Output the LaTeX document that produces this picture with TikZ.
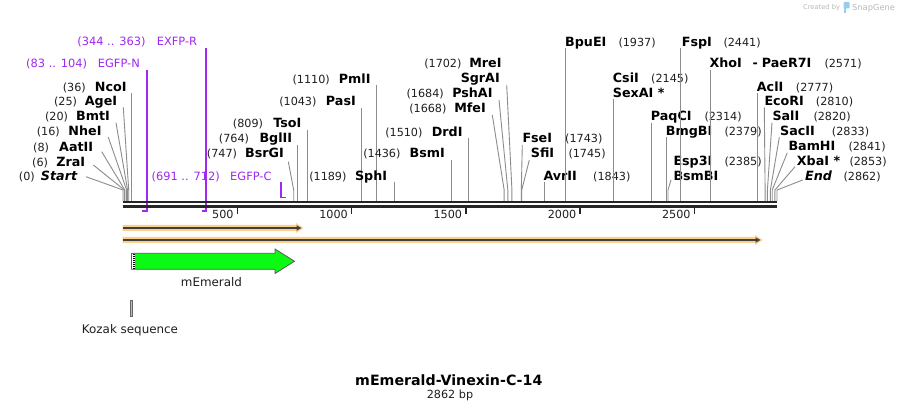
\documentclass[tikz,border=0pt]{standalone}
\usepackage{fontspec}
\setmainfont{DejaVu Sans}
\usetikzlibrary{arrows.meta}
\definecolor{primc}{RGB}{160,40,240}
\definecolor{cutc}{RGB}{140,140,140}
\definecolor{bbc}{RGB}{38,38,38}
\definecolor{orbg}{RGB}{252,208,140}
\definecolor{flc}{RGB}{64,64,64}
\definecolor{grn}{RGB}{10,250,20}
\definecolor{wmc}{RGB}{185,185,185}
\definecolor{logoc}{RGB}{150,205,240}
\tikzset{
  num/.style={font=\fontsize{11.2}{13}\selectfont, inner sep=0pt, text=black!88},
  enz/.style={font=\fontsize{12.7}{14}\selectfont\bfseries, inner sep=0pt, text=black},
  prim/.style={font=\fontsize{11.4}{13}\selectfont, inner sep=0pt, text=primc},
  feat/.style={font=\fontsize{11.9}{13}\selectfont, inner sep=0pt, text=black!88},
  cut/.style={draw=cutc, line width=0.9pt},
  pline/.style={draw=primc, line width=1.7pt},
  bb/.style={draw=bbc, line width=2.4pt},
  tickm/.style={draw=bbc, line width=1.6pt},
  fline/.style={draw=flc, line width=1.6pt, -{Triangle[length=5pt,width=5pt]}},
}
\newcommand\enzL[9]{%
  \node[enz,anchor=base east] (#1) at (#4,#6) {#2};
  \node[num,anchor=base east] (#1n) at (#5,#6) {#3};
  \coordinate (#1a) at (#7,#8);
  \coordinate (#1k) at (#9,190);
  \coordinate (#1s) at (#9,201.5);
  \draw[cut] (#1a) -- (#1k) -- (#1s);
}
\newcommand\enzR[9]{%
  \node[enz,anchor=base west] (#1) at (#4,#6) {#2};
  \node[num,anchor=base west] (#1n) at (#5,#6) {#3};
  \coordinate (#1a) at (#7,#8);
  \coordinate (#1k) at (#9,190);
  \coordinate (#1s) at (#9,201.5);
  \draw[cut] (#1a) -- (#1k) -- (#1s);
}
\begin{document}
\begin{tikzpicture}[x=1pt,y=-1pt]
\useasboundingbox (0,0) rectangle (900,411);
\fill[white] (0,0) rectangle (900,411);

% watermark
\node[anchor=base west, inner sep=0pt, font=\fontsize{6.7}{8}\selectfont, text=wmc] (wm1) at (803,10) {Created by};
\fill[logoc, rounded corners=1pt] (843.5,2) rectangle (849.5,8.5);
\fill[logoc] (843.5,6) rectangle (846,13);
\node[anchor=base west, inner sep=0pt, font=\fontsize{8.3}{9}\selectfont, text=wmc] (wm2) at (852,10.5) {SnapGene};

% primers (drawn under the backbone)
\node[prim,anchor=base east] (exr) at (197.3,45.7) {EXFP-R};
\node[prim,anchor=base east] (exrn) at (145.7,45.7) {(344 .. 363)};
\coordinate (exra) at (206.3,48.3);
\coordinate (exrb) at (206.3,211);
\coordinate (exrc) at (201.6,211);
\draw[pline] (exra) -- (exrb) -- (exrc);

\node[prim,anchor=base east] (egn) at (140,67.3) {EGFP-N};
\node[prim,anchor=base east] (egnn) at (87.3,67.3) {(83 .. 104)};
\coordinate (egna) at (146.8,70);
\coordinate (egnb) at (146.8,211);
\coordinate (egnc) at (142,211);
\draw[pline] (egna) -- (egnb) -- (egnc);

\node[prim,anchor=base east] (egc) at (271.7,180.7) {EGFP-C};
\node[prim,anchor=base east] (egcn) at (220,180.7) {(691 .. 712)};
\coordinate (egca) at (280.9,182);
\coordinate (egcb) at (280.9,197.5);
\coordinate (egcc) at (285.7,197.5);
\draw[pline] (egca) -- (egcb) -- (egcc);

% enzymes, labels on the left
\enzL{st}{\itshape Start}{(0)}{77.3}{35}{180.7}{86}{176.7}{123}
\enzL{zra}{ZraI}{(6)}{85.3}{48.3}{166.3}{93.3}{165}{124.37}
\enzL{aat}{AatII}{(8)}{93.3}{49.3}{151.3}{101.7}{151.7}{124.83}
\enzL{nhe}{NheI}{(16)}{101.7}{60}{135.7}{108.3}{137.3}{126.66}
\enzL{bmt}{BmtI}{(20)}{110}{68.3}{120.7}{116}{122.7}{127.57}
\enzL{age}{AgeI}{(25)}{117.3}{77.3}{105.7}{123.3}{107.3}{128.71}
\enzL{nco}{NcoI}{(36)}{126.7}{86}{91.3}{131.23}{93.3}{131.23}
\enzL{bsrg}{BsrGI}{(747)}{284}{237.3}{158}{288.3}{161.7}{293.7}
\enzL{bgl}{BglII}{(764)}{292.3}{249.3}{143}{297.58}{145}{297.58}
\enzL{tso}{TsoI}{(809)}{301.5}{263.3}{128}{307.87}{130}{307.87}
\enzL{pas}{PasI}{(1043)}{356}{316.7}{105.7}{361.34}{108.3}{361.34}
\enzL{pml}{PmlI}{(1110)}{370.7}{330}{83.3}{376.64}{85}{376.64}
\enzL{sph}{SphI}{(1189)}{387.3}{346.7}{180.7}{394.7}{181.7}{394.7}
\enzL{bsm}{BsmI}{(1436)}{445}{400.7}{158}{451.14}{160}{451.14}
\enzL{drd}{DrdI}{(1510)}{462.7}{422.7}{136.3}{468.05}{137.7}{468.05}
\enzL{mfe}{MfeI}{(1668)}{486}{446.7}{113}{492.3}{115}{504.16}
\enzL{psh}{PshAI}{(1684)}{492.7}{444}{97.3}{499}{100}{507.81}
\node[enz,anchor=base east] (sgr) at (500,82.3) {SgrAI};
\node[enz,anchor=base east] (mre) at (501.7,67.3) {MreI};
\node[num,anchor=base east] (mren) at (461.7,67.3) {(1702)};
\coordinate (sgra) at (506.7,85);
\coordinate (sgrk) at (511.93,190);
\coordinate (sgrs) at (511.93,201.5);
\draw[cut] (sgra) -- (sgrk) -- (sgrs);

% enzymes, labels on the right
\enzR{fse}{FseI}{(1743)}{522.3}{565}{143}{522.3}{145}{521.3}
\enzR{sfi}{SfiI}{(1745)}{530.7}{568.3}{158}{529.3}{160}{521.75}
\enzR{avr}{AvrII}{(1843)}{543.3}{593}{180.7}{544.14}{181.7}{544.14}
\enzR{bpue}{BpuEI}{(1937)}{565}{618.3}{46.3}{565.62}{48.3}{565.62}
\enzR{csi}{CsiI}{(2145)}{612.7}{651}{83}{613.15}{99.3}{613.15}
\node[enz,anchor=base west] (sexa) at (612.7,98) {SexAI *};
\enzR{paq}{PaqCI}{(2314)}{650.7}{704.3}{120.7}{651.77}{122.7}{651.77}
\enzR{bmgb}{BmgBI}{(2379)}{665.7}{724.3}{135.7}{666.62}{137.3}{666.62}
\enzR{esp}{Esp3I}{(2385)}{673.3}{724.3}{165.7}{671}{180}{667.99}
\node[enz,anchor=base west] (bsmb) at (673.3,180.7) {BsmBI};
\enzR{fsp}{FspI}{(2441)}{681.7}{723.3}{46.3}{680.79}{48.3}{680.79}
\enzR{xho}{XhoI}{(2571)}{709.3}{824.3}{67.3}{710.5}{70}{710.5}
\node[enz,anchor=base west] (xhod) at (752.3,67.3) {-};
\node[enz,anchor=base west] (pae) at (761.7,67.3) {PaeR7I};
\enzR{acl}{AclI}{(2777)}{756.7}{795.7}{91.3}{757.57}{93.3}{757.57}
\enzR{eco}{EcoRI}{(2810)}{764.3}{815.7}{105.7}{764.3}{107.3}{765.11}
\enzR{sal}{SalI}{(2820)}{772.3}{813.3}{120.7}{772}{122.7}{767.4}
\enzR{sac}{SacII}{(2833)}{780}{831.7}{135.7}{779.3}{137.3}{770.37}
\enzR{bam}{BamHI}{(2841)}{788.3}{848.3}{150.7}{787.3}{152.7}{772.2}
\enzR{xba}{XbaI *}{(2853)}{796.7}{849.3}{165.7}{795}{166.7}{774.94}
\enzR{endl}{\itshape End}{(2862)}{805}{843.3}{180.7}{802.7}{180}{777}

% backbone
\coordinate (bbl1) at (122.7,202.2);
\coordinate (bbr1) at (777,202.2);
\coordinate (bbl2) at (122.7,206.5);
\coordinate (bbr2) at (777,206.5);
\draw[bb] (bbl1) -- (bbr1);
\draw[bb] (bbl2) -- (bbr2);

% ticks
\foreach \bx/\lab in {237.3/500, 351.5/1000, 465.8/1500, 580/2000, 694.3/2500}{
  \draw[tickm] (\bx,207.5) -- (\bx,214.5);
  \node[num,anchor=base east] (t\lab) at (\bx-3.5,218.3) {\lab};
}

% feature arrows with orange halo
\fill[orbg] (122.7,225) -- (296,225) -- (296,223) -- (303.5,228) -- (296,233) -- (296,231) -- (122.7,231) -- cycle;
\coordinate (f1a) at (123,228);
\coordinate (f1b) at (301.5,228);
\draw[fline] (f1a) -- (f1b);

\fill[orbg] (122.7,237) -- (755,237) -- (755,235) -- (762.5,240) -- (755,245) -- (755,243) -- (122.7,243) -- cycle;
\coordinate (f2a) at (123,240);
\coordinate (f2b) at (760.5,240);
\draw[fline] (f2a) -- (f2b);

% mEmerald
\filldraw[fill=grn, draw=black!65, line width=0.8pt] (131.5,253.3) -- (275,253.3) -- (275,249) -- (294.5,261.3) -- (275,273.5) -- (275,269.3) -- (131.5,269.3) -- cycle;
\fill[white] (132.3,253.8) rectangle (135,268.8);
\draw[black, line width=0.6pt, dash pattern=on 1pt off 1pt] (132.8,253.8) -- (132.8,268.8);
\draw[black, line width=0.6pt, dash pattern=on 1pt off 1pt] (134.6,254.3) -- (134.6,268.8);
\node[feat,anchor=base] (mem) at (211.5,286.5) {mEmerald};

% Kozak
\filldraw[fill=gray!55, draw=black!60, line width=0.7pt] (130,300) rectangle (132.7,316.7);
\node[feat,anchor=base] (koz) at (130,333.5) {Kozak sequence};

% title
\node[anchor=base, inner sep=0pt, font=\fontsize{14.2}{16}\selectfont\bfseries] (title) at (448.8,385.8) {mEmerald-Vinexin-C-14};
\node[anchor=base, inner sep=0pt, font=\fontsize{11.2}{13}\selectfont, text=black!88] (bp) at (450,398.4) {2862 bp};
\end{tikzpicture}
\end{document}
